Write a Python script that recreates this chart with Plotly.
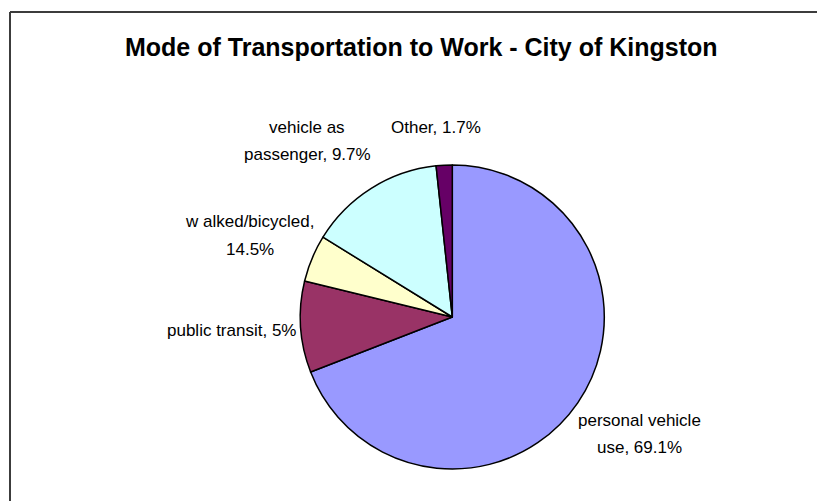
import textwrap
import plotly.graph_objects as go

# ---- data ----
categories = ["personal vehicle use", "public transit", "w alked/bicycled",
              "vehicle as passenger", "Other"]
slice_values = [69.1, 9.7, 5.0, 14.5, 1.7]          # slice sizes as drawn
label_pcts = ["69.1%", "5%", "14.5%", "9.7%", "1.7%"]  # percentages printed in labels
title_text = "Mode of Transportation to Work - City of Kingston"

# ---- styling / layout ----
W, H = 817, 501
colors = ["#9999FF", "#993366", "#FFFFCC", "#CCFFFF", "#660066"]
FONT = "Liberation Sans, Arial, sans-serif"

def px(x):
    return x / W

def py(y):
    return 1 - y / H

cx, cy, r = 452.3, 317.0, 152.0
label_pos = [(639, 420), (231, 330), (250, 222), (307, 127), (436, 128)]
line_gap = 27

fig = go.Figure(go.Pie(
    labels=categories,
    values=slice_values,
    sort=False,
    direction="clockwise",
    rotation=0,
    marker=dict(colors=colors, line=dict(color="black", width=1.5)),
    textinfo="none",
    hoverinfo="label+percent",
    showlegend=False,
    domain=dict(x=[px(cx - r), px(cx + r)], y=[py(cy + r), py(cy - r)]),
))

annotations = []
for cat, pct, (lx, ly) in zip(categories, label_pcts, label_pos):
    lines = textwrap.wrap(f"{cat}, {pct}", 18)
    for i, line in enumerate(lines):
        annotations.append(dict(
            x=px(lx), y=py(ly + i * line_gap), xref="paper", yref="paper",
            text=line, showarrow=False, xanchor="center", yanchor="middle",
            font=dict(family=FONT, size=17, color="black"),
        ))

annotations.append(dict(
    x=px(421), y=py(47), xref="paper", yref="paper", text=f"<b>{title_text}</b>",
    showarrow=False, xanchor="center", yanchor="middle",
    font=dict(family=FONT, size=25, color="black"),
))

shapes = [
    dict(type="line", xref="paper", yref="paper", x0=px(10), x1=px(10), y0=py(12), y1=0,
         line=dict(color="#3c3c3c", width=2)),
    dict(type="line", xref="paper", yref="paper", x0=px(10), x1=1, y0=py(12), y1=py(12),
         line=dict(color="#3c3c3c", width=2)),
]

fig.update_layout(
    width=W, height=H,
    margin=dict(l=0, r=0, t=0, b=0),
    paper_bgcolor="white", plot_bgcolor="white",
    annotations=annotations, shapes=shapes,
)

fig.write_html(
    "out.html",
    config={"displayModeBar": False},
    post_script="document.body.style.margin='0';document.body.style.overflow='hidden';",
)
